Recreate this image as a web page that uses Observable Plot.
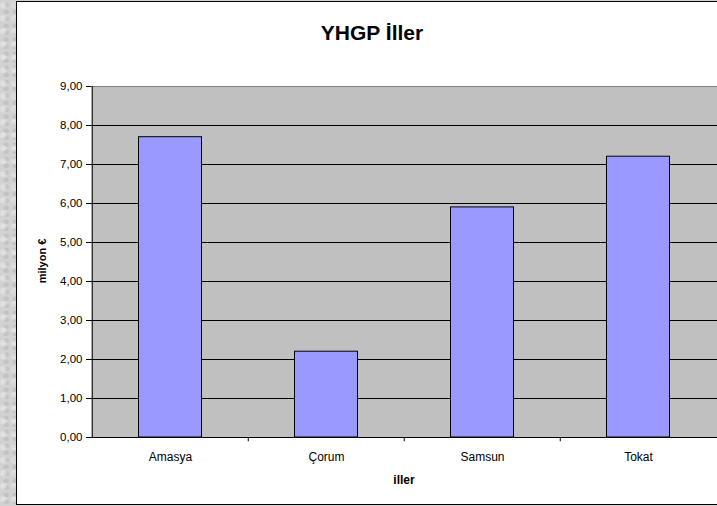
<!DOCTYPE html>
<html>
<head>
<meta charset="utf-8">
<script src="https://cdn.jsdelivr.net/npm/d3@7"></script>
<script src="https://cdn.jsdelivr.net/npm/@observablehq/plot@0.6"></script>
<style>
  html, body { margin: 0; padding: 0; }
  body {
    width: 717px; height: 506px; overflow: hidden;
    background-color: #d2d2d2;
    background-image:
      radial-gradient(ellipse at 30% 40%, rgba(255,255,255,0.35) 0 2px, transparent 4px),
      radial-gradient(ellipse at 70% 70%, rgba(150,150,150,0.25) 0 2px, transparent 4px);
    background-size: 11px 13px, 9px 7px;
    font-family: "Liberation Sans", Arial, sans-serif;
  }
  #wrap { position: relative; width: 717px; height: 506px; }
  #box { position: absolute; left: 16px; top: 1px; width: 720px; height: 504px; background: #fff; border: 1px solid #000; box-sizing: border-box; }
  #title { position: absolute; left: 16px; width: 712px; top: 21px; text-align: center; font-weight: bold; font-size: 21px; color: #000; }
  #ylab { position: absolute; left: 42px; top: 261px; transform: translate(-50%, -50%) rotate(-90deg); font-weight: bold; font-size: 11px; white-space: nowrap; }
  #xlab { position: absolute; left: 404px; top: 473px; transform: translateX(-50%); font-weight: bold; font-size: 12px; }
  #chart { position: absolute; left: 0; top: 0; }
  #chart svg { background: transparent; }
</style>
</head>
<body>
<div id="wrap">
  <div id="box"></div>
  <div id="chart"></div>
  <div id="title">YHGP İller</div>
  <div id="ylab">milyon €</div>
  <div id="xlab">iller</div>
</div>
<script>
const categories = ["Amasya", "Çorum", "Samsun", "Tokat"];
const values = [7.7, 2.2, 5.9, 7.2];
const yTicks = [0, 1, 2, 3, 4, 5, 6, 7, 8, 9];

const data = categories.map((c, i) => ({ il: c, deger: values[i] }));
const fmt = d => d.toFixed(2).replace(".", ",");
const half = (717 - 91) / categories.length / 2;

const chart = Plot.plot({
  width: 717,
  height: 506,
  marginLeft: 91,
  marginRight: 0,
  marginTop: 86,
  marginBottom: 69,
  style: { background: "transparent", fontFamily: "Liberation Sans, Arial, sans-serif", color: "#000" },
  x: { type: "band", domain: categories, padding: 0, label: null },
  y: { domain: [0, 9], label: null },
  marks: [
    Plot.frame({ fill: "#c0c0c0", stroke: null }),
    Plot.ruleY(yTicks.slice(1, -1), { stroke: "#000", strokeWidth: 1 }),
    Plot.ruleY([9], { stroke: "#7f7f7f", strokeWidth: 1 }),
    Plot.barY(data, { x: "il", y: "deger", fill: "#9999ff", stroke: "#000", strokeWidth: 1, insetLeft: 46.5, insetRight: 46.5 }),
    Plot.ruleY([0], { stroke: "#000", strokeWidth: 1 }),
    Plot.ruleX([categories[0]], { dx: -half, stroke: "#000", strokeWidth: 1 }),
    Plot.ruleX(categories.slice(1), { dx: -half, y1: 0, y2: -0.11, stroke: "#000" }),
    Plot.axisY({ ticks: yTicks, tickFormat: fmt, tickSize: 5, tickPadding: 4, fontSize: 11.5, label: null }),
    Plot.axisX({ tickSize: 0, tickPadding: 15, fontSize: 12, label: null })
  ]
});
document.getElementById("chart").appendChild(chart);
</script>
</body>
</html>
